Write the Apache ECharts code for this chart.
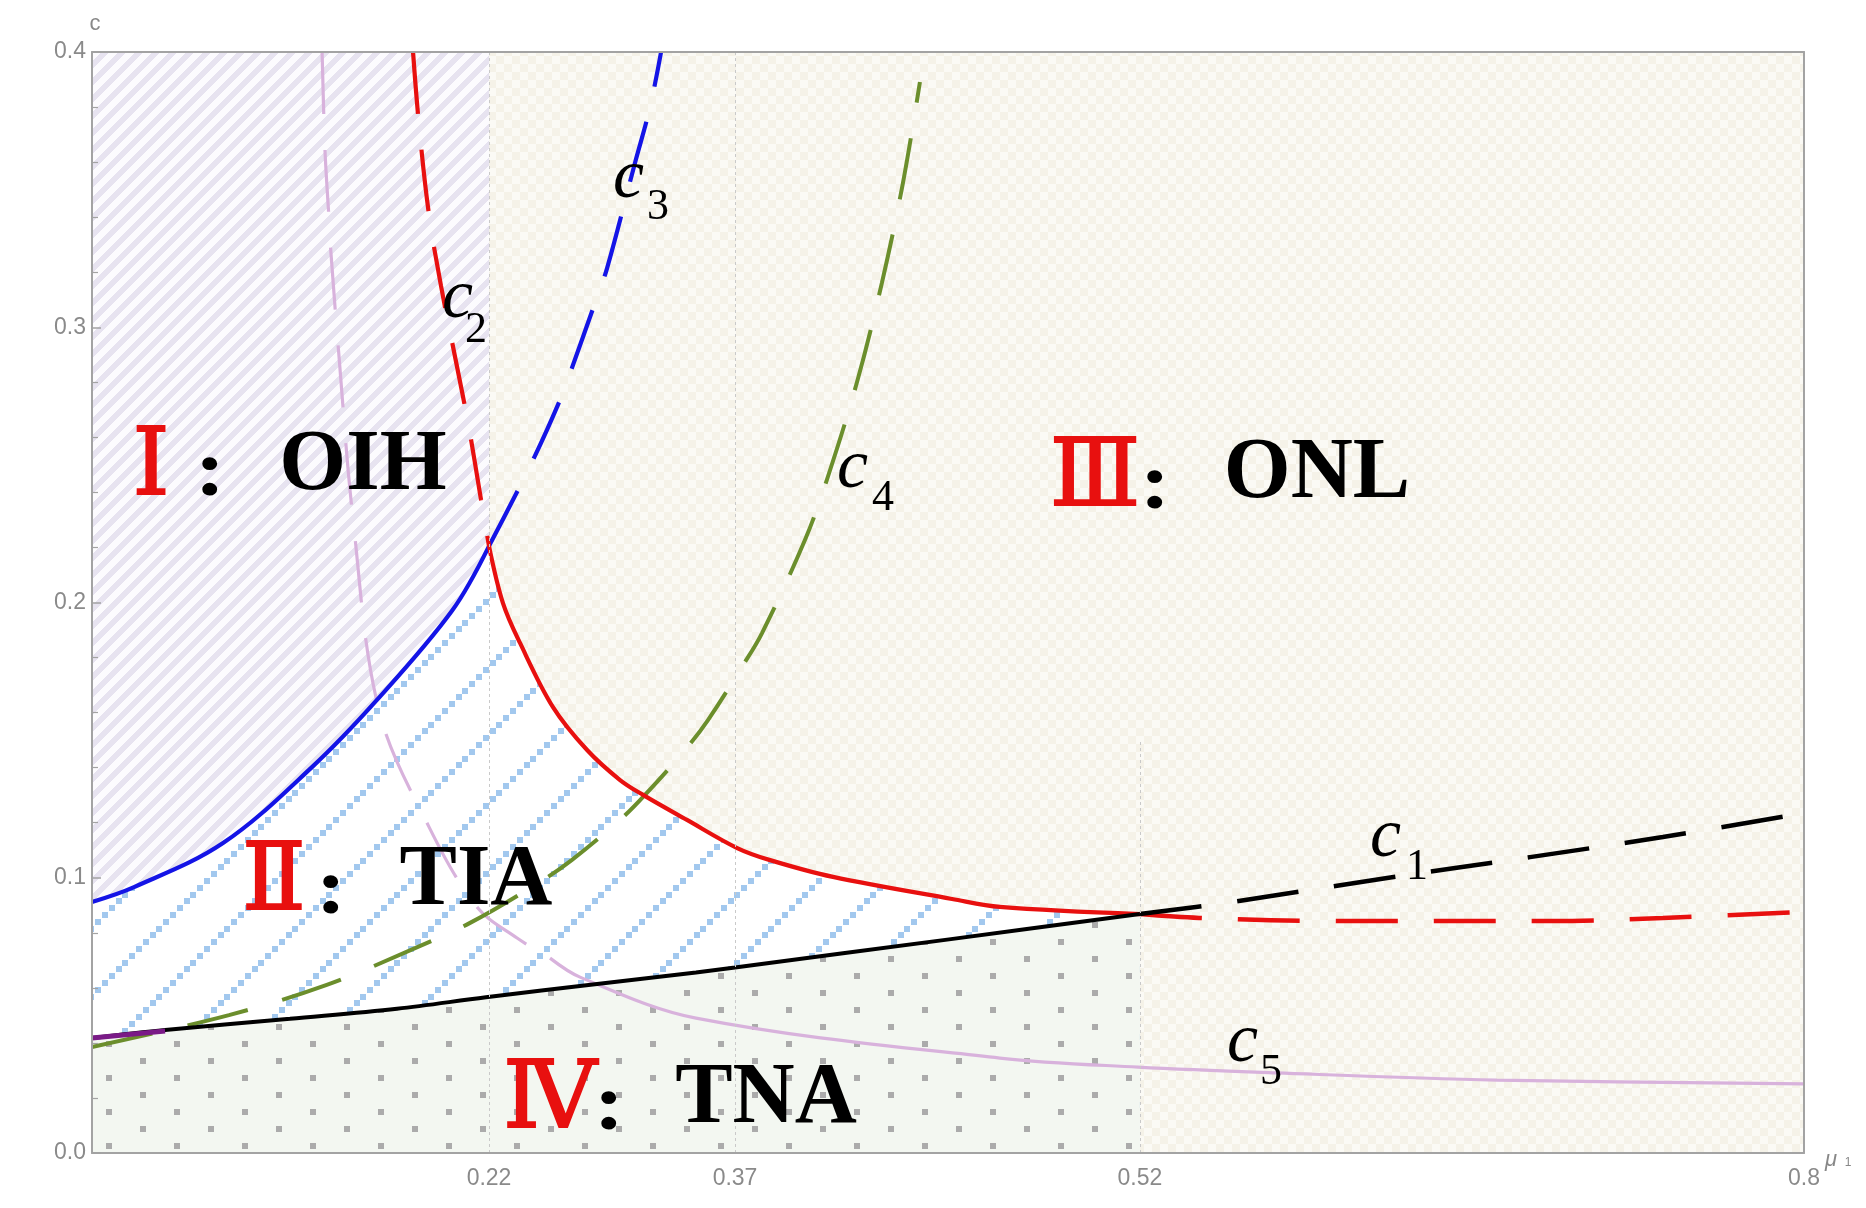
<!DOCTYPE html>
<html>
<head>
<meta charset="utf-8">
<script src="https://cdn.jsdelivr.net/npm/echarts@6/dist/echarts.min.js"></script>
<style>
html,body{margin:0;padding:0;background:#fff;}
#chart{width:1866px;height:1208px;}
</style>
</head>
<body>
<div id="chart"></div>
<script>
// ---------------- data (mu_1 , c) ----------------
const yTicks = [0, 0.1, 0.2, 0.3, 0.4];
const xTickValues = [0.22, 0.37, 0.52, 0.8];
const xTickLabels = ['0.22', '0.37', '0.52', '0.8'];

// c1 (black): solid part, dashed part
const c1SolidMu = [0, 0.0405, 0.1097, 0.169, 0.2183, 0.2859, 0.3462, 0.37, 0.45, 0.52];
const c1SolidC  = [0.0418, 0.0447, 0.0488, 0.0524, 0.0566, 0.0614, 0.0656, 0.0674, 0.0777, 0.0868];
const c1DashMu  = [0.52, 0.5588, 0.6242, 0.6845, 0.7405, 0.8];
const c1DashC   = [0.0868, 0.0912, 0.0999, 0.1075, 0.1148, 0.1235];

// c2 (red): dashed upper, solid middle, dashed right
const c2DashTopMu = [0.1779, 0.1812, 0.1867, 0.1934, 0.2012, 0.2089, 0.2156, 0.22];
const c2DashTopC  = [0.4, 0.3735, 0.3411, 0.315, 0.2892, 0.2634, 0.2372, 0.2205];
const c2SolidMu = [0.22, 0.2285, 0.2389, 0.259, 0.2798, 0.2999, 0.3139, 0.3407, 0.3708, 0.383, 0.4063, 0.4504, 0.4681, 0.52];
const c2SolidC  = [0.2205, 0.1998, 0.1853, 0.162, 0.1464, 0.1355, 0.1301, 0.121, 0.1108, 0.1064, 0.1003, 0.0923, 0.0894, 0.0868];
const c2DashRightMu = [0.52, 0.5449, 0.6005, 0.6937, 0.7405, 0.8];
const c2DashRightC  = [0.0868, 0.0854, 0.0843, 0.0843, 0.0854, 0.0876];

// c3 (blue): solid lower, dashed upper
const c3SolidMu = [0, 0.0233, 0.0726, 0.1219, 0.1579, 0.1995, 0.22];
const c3SolidC  = [0.0912, 0.0966, 0.1126, 0.1402, 0.1646, 0.197, 0.2205];
const c3DashMu  = [0.22, 0.2456, 0.2633, 0.2712, 0.2846, 0.292, 0.309, 0.3182, 0.3249];
const c3DashC   = [0.2205, 0.2503, 0.2736, 0.2863, 0.3088, 0.3215, 0.3597, 0.38, 0.4];

// c4 (green, dashed)
const c4Mu = [0, 0.0759, 0.1297, 0.1768, 0.2095, 0.2511, 0.2706, 0.3011, 0.3151, 0.3395, 0.3535, 0.373, 0.38, 0.3959, 0.404, 0.4152, 0.4244, 0.4322, 0.4385];
const c4C  = [0.0385, 0.0501, 0.061, 0.0738, 0.0836, 0.0985, 0.1065, 0.1217, 0.1301, 0.1464, 0.1573, 0.1773, 0.1889, 0.2227, 0.2445, 0.2801, 0.3161, 0.3524, 0.3891];

// c5 (lavender): dashed upper, solid lower
const c5DashMu = [0.1275, 0.1291, 0.1313, 0.1325, 0.1369, 0.1446, 0.159, 0.1868, 0.2133, 0.2371, 0.2572];
const c5DashC  = [0.4, 0.3644, 0.3397, 0.3262, 0.2892, 0.2307, 0.1609, 0.1184, 0.0894, 0.0781, 0.0708];
const c5SolidMu = [0.2572, 0.2755, 0.3462, 0.4681, 0.5193, 0.5773, 0.6705, 0.8];
const c5SolidC  = [0.0708, 0.0639, 0.049, 0.0345, 0.0312, 0.0291, 0.0265, 0.0251];

// short purple piece at the left
const purpleMu = [0, 0.0405];
const purpleC  = [0.0418, 0.0443];

// ---------------- axis scale (piecewise-linear mu axis) ----------------
const AXIS_MU   = [0, 0.22, 0.37, 0.52, 0.8];
const AXIS_FRAC = [0, 0.2319, 0.3756, 0.6121, 1];
function warp(mu) {
  let i = 0;
  while (i < AXIS_MU.length - 2 && mu > AXIS_MU[i + 1]) i++;
  const t = (mu - AXIS_MU[i]) / (AXIS_MU[i + 1] - AXIS_MU[i]);
  return AXIS_FRAC[i] + t * (AXIS_FRAC[i + 1] - AXIS_FRAC[i]);
}
const Y_MAX = yTicks[yTicks.length - 1];
const MU_MIN = AXIS_MU[0], MU_MAX = AXIS_MU[AXIS_MU.length - 1];

// ---------------- patterns ----------------
function tile(w, h, draw) {
  const cv = document.createElement('canvas');
  cv.width = w; cv.height = h;
  const g = cv.getContext('2d');
  draw(g);
  return { image: cv, repeat: 'repeat' };
}
const patStripes = tile(17, 17, g => {
  g.fillStyle = '#fcfbfe'; g.fillRect(0, 0, 17, 17);
  g.fillStyle = '#e7e3f0';
  for (let x = 0; x < 17; x++) for (let y = 0; y < 17; y++) if ((x + y) % 17 < 8) g.fillRect(x, y, 1, 1);
});
const patBlue = tile(68, 68, g => {
  g.fillStyle = '#ffffff'; g.fillRect(0, 0, 68, 68);
  g.fillStyle = '#a2c8ee';
  for (let k = 0; k < 10; k++) {
    const x = Math.round(k * 6.8);
    const y = ((62 - x) % 68 + 68) % 68;
    g.fillRect(x, y, 6, 6);
  }
});
const patDots = tile(68, 34, g => {
  g.fillStyle = '#f3f7f1'; g.fillRect(0, 0, 68, 34);
  g.fillStyle = '#ababab';
  g.fillRect(4, 4, 6, 6); g.fillRect(38, 21, 6, 6);
});
const patChecker = tile(16, 16, g => {
  g.fillStyle = '#f5f2e8'; g.fillRect(0, 0, 16, 16);
  g.fillStyle = '#fbfaf5'; g.fillRect(0, 0, 8, 8); g.fillRect(8, 8, 8, 8);
});

// ---------------- helpers ----------------
const pts = (mu, c) => mu.map((m, i) => [warp(m), c[i]]);
const SMOOTH = 0.35;
function curve(mu, c, color, width, dashed) {
  return {
    type: 'line', data: pts(mu, c), smooth: SMOOTH,
    symbol: 'none', silent: true, z: 3,
    lineStyle: { color: color, width: width, type: dashed ? [62, 36] : 'solid', cap: 'butt' }
  };
}
function region(mu, c, pattern, extra) {
  return Object.assign({
    type: 'line', data: pts(mu, c), smooth: SMOOTH,
    symbol: 'none', silent: true, z: 1,
    lineStyle: { width: 0, opacity: 0 },
    areaStyle: { color: pattern, opacity: 1 }
  }, extra || {});
}

const RED = '#e8100f', BLUE = '#1414e6', GREEN = '#6b8e2c', LAV = '#d8b2dc', PURPLE = '#7a1a87';

const gridLines = {
  silent: true, symbol: ['none', 'none'], animation: false,
  label: { show: false },
  lineStyle: { color: '#c9c9c9', type: [3, 3], width: 1 },
  data: [
    [{ coord: [warp(xTickValues[0]), 0] }, { coord: [warp(xTickValues[0]), Y_MAX] }],
    [{ coord: [warp(xTickValues[1]), 0] }, { coord: [warp(xTickValues[1]), Y_MAX] }],
    [{ coord: [warp(xTickValues[2]), 0] }, { coord: [warp(xTickValues[2]), 0.15] }]
  ]
};

const series = [
  region([MU_MIN, MU_MAX], [Y_MAX, Y_MAX], patChecker),                                   // III
  region([c3SolidMu[0], c3SolidMu[c3SolidMu.length - 1]], [Y_MAX, Y_MAX], patStripes),    // I
  region(c3SolidMu, c3SolidC, patBlue),                                                   // II (left part)
  region(c2SolidMu, c2SolidC, patBlue),                                                   // II (right part)
  region(c1SolidMu, c1SolidC, patDots, { markLine: gridLines }),                          // IV
  curve(c5DashMu, c5DashC, LAV, 3.2, true),
  curve(c5SolidMu, c5SolidC, LAV, 3.2, false),
  curve(c4Mu, c4C, GREEN, 4, true),
  curve(c3SolidMu, c3SolidC, BLUE, 4.2, false),
  curve(c3DashMu, c3DashC, BLUE, 4.2, true),
  curve(c2DashTopMu, c2DashTopC, RED, 4.2, true),
  curve(c2SolidMu, c2SolidC, RED, 4.2, false),
  curve(c2DashRightMu, c2DashRightC, RED, 4.5, true),
  curve(c1SolidMu, c1SolidC, '#000', 4, false),
  curve(c1DashMu, c1DashC, '#000', 4.5, true),
  curve(purpleMu, purpleC, PURPLE, 5, false)
];

// ---------------- text annotations (pixel layout) ----------------
const SERIF = '"Liberation Serif", "Times New Roman", serif';
function txt(x, y, text, font, fill, align, extra, styleExtra) {
  return Object.assign({ type: 'text', x: x, y: y, silent: true, z: 100,
    style: Object.assign({ text: text, font: font, fill: fill,
      align: align || 'left', verticalAlign: 'middle',
      textAlign: align || 'left', textVerticalAlign: 'middle' }, styleExtra || {}) }, extra || {});
}
const NUM_FONT = '94px "DejaVu Serif", "Noto Sans CJK SC", serif';
const NAME_FONT = 'bold 86px ' + SERIF;
const COLON_FONT = 'bold 92px ' + SERIF;
const C_FONT = 'italic 70px ' + SERIF;
const SUB_FONT = '44px ' + SERIF;
const AX_FONT = '22px "Liberation Sans", Arial, sans-serif';
const colon = (x, y) => txt(x, y, ':', COLON_FONT, '#000', 'center', { scaleY: 0.85 });
const numeral = (x, y, s) => txt(x, y, s, NUM_FONT, RED, 'center', null, { stroke: RED, lineWidth: 2 });

const graphics = [
  // region labels
  numeral(151, 470, 'Ⅰ'),
  colon(210, 475),
  txt(363, 467, 'OIH', NAME_FONT, '#000', 'center'),
  numeral(274, 885, 'Ⅱ'),
  colon(331, 893),
  txt(476, 882, 'TIA', NAME_FONT, '#000', 'center'),
  numeral(1095, 481, 'Ⅲ'),
  colon(1155, 488),
  txt(1317, 475, 'ONL', NAME_FONT, '#000', 'center'),
  numeral(550, 1103, 'Ⅳ'),
  colon(609, 1109),
  txt(766, 1100, 'TNA', NAME_FONT, '#000', 'center'),
  // curve labels
  txt(442, 299, 'c', C_FONT, '#000'), txt(465, 330, '2', SUB_FONT, '#000'),
  txt(613, 179, 'c', C_FONT, '#000'), txt(647, 207, '3', SUB_FONT, '#000'),
  txt(837, 469, 'c', C_FONT, '#000'), txt(872, 498, '4', SUB_FONT, '#000'),
  txt(1370, 838, 'c', C_FONT, '#000'), txt(1406, 867, '1', SUB_FONT, '#000'),
  txt(1227, 1043, 'c', C_FONT, '#000'), txt(1260, 1072, '5', SUB_FONT, '#000'),
  // axis names
  txt(95, 24, 'c', AX_FONT, '#888', 'center'),
  txt(1831, 1160, 'μ', 'italic 22px "Liberation Sans", Arial, sans-serif', '#888', 'center'),
  txt(1848, 1163, '1', '12px "Liberation Sans", Arial, sans-serif', '#888', 'center')
];

const AXIS_COLOR = '#a3a3a3';
const option = {
  animation: false,
  backgroundColor: '#ffffff',
  grid: { left: 92, right: 62, top: 52, bottom: 55 },
  xAxis: [
    { type: 'value', min: 0, max: 1, position: 'bottom', z: 10,
      axisLine: { show: true, onZero: false, lineStyle: { color: AXIS_COLOR, width: 2 } },
      axisTick: { show: false }, splitLine: { show: false },
      axisLabel: {
        customValues: xTickValues.map(warp), showMaxLabel: true, showMinLabel: true,
        formatter: v => { const i = xTickValues.findIndex(t => Math.abs(warp(t) - v) < 1e-6); return i >= 0 ? xTickLabels[i] : ''; },
        color: '#8a8a8a', fontSize: 23, fontFamily: '"Liberation Sans", Arial, sans-serif', margin: 14
      } },
    { type: 'value', min: 0, max: 1, position: 'top', z: 10,
      axisLine: { show: true, onZero: false, lineStyle: { color: AXIS_COLOR, width: 2 } },
      axisTick: { show: false }, axisLabel: { show: false }, splitLine: { show: false } }
  ],
  yAxis: [
    { type: 'value', min: yTicks[0], max: Y_MAX, interval: yTicks[1] - yTicks[0], z: 10,
      axisLine: { show: true, onZero: false, lineStyle: { color: AXIS_COLOR, width: 2 } },
      axisTick: { show: true, inside: true, length: 9, lineStyle: { color: AXIS_COLOR, width: 1.5 } },
      minorTick: { show: true, splitNumber: 5, length: 6, lineStyle: { color: AXIS_COLOR, width: 1.2 } },
      splitLine: { show: false }, minorSplitLine: { show: false },
      axisLabel: { formatter: v => v.toFixed(1), color: '#8a8a8a', fontSize: 23,
        fontFamily: '"Liberation Sans", Arial, sans-serif', margin: 6 } },
    { type: 'value', min: yTicks[0], max: Y_MAX, position: 'right', z: 10,
      axisLine: { show: true, onZero: false, lineStyle: { color: AXIS_COLOR, width: 2 } },
      axisTick: { show: false }, axisLabel: { show: false }, splitLine: { show: false } }
  ],
  series: series,
  graphic: { elements: graphics }
};

const chart = echarts.init(document.getElementById('chart'), null, { renderer: 'canvas' });
chart.setOption(option);
</script>
</body>
</html>
